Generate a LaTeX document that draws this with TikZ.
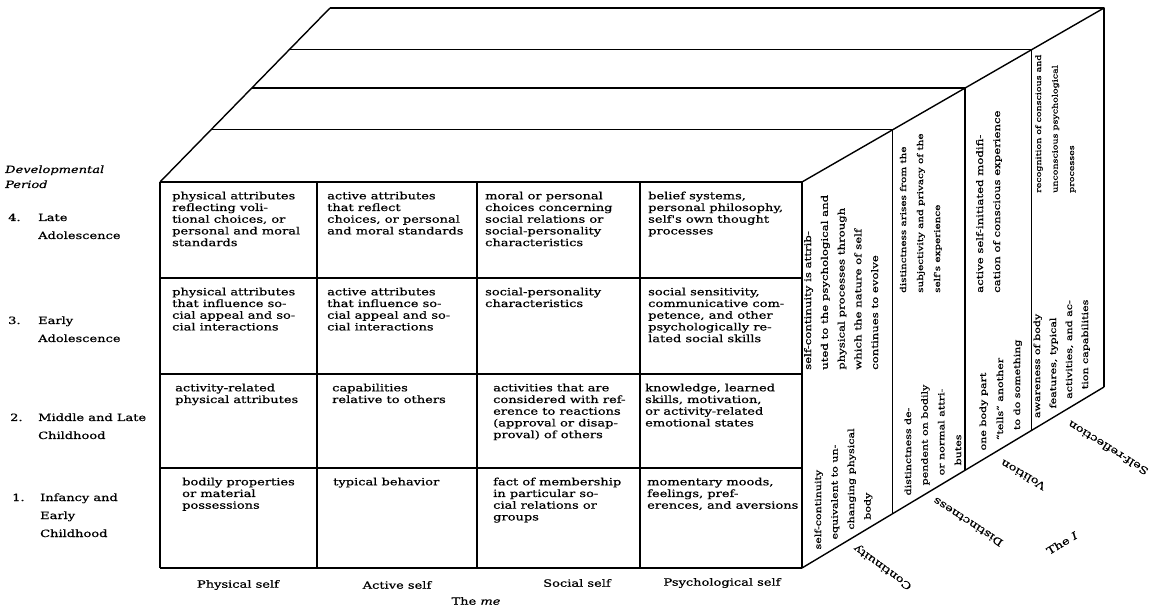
\documentclass[tikz,border=0pt]{standalone}
\usepackage{fontspec}
\usetikzlibrary{calc}
\newfontfamily\scanfont[FakeStretch=1.3,FakeBold=0.7]{DejaVu Serif}
\tikzset{
  frontline/.style={line width=1.8pt},
  boxline/.style={line width=1.4pt},
  celltext/.style={anchor=north west, align=left, inner sep=0pt,
    font=\scanfont\fontsize{10}{11.7}\selectfont},
  slabtext/.default=8.5,
  slabtext/.style={rotate=90, anchor=base west, inner sep=0pt,
    font=\scanfont\fontsize{#1}{10}\selectfont},
  axislabel/.style={inner sep=0pt, font=\scanfont\fontsize{10}{12}\selectfont},
  periodlabel/.style={anchor=base west, inner sep=0pt,
    font=\scanfont\fontsize{10}{18}\selectfont},
}

\begin{document}
\begin{tikzpicture}[x=1pt, y=1pt, line join=round]
  \useasboundingbox (0,0) rectangle (1158,613);

  % corners of the block
  \coordinate (ftl) at (160,431);
  \coordinate (ftr) at (802,431);
  \coordinate (fbl) at (160,45);
  \coordinate (fbr) at (802,45);
  \coordinate (btl) at (330,605);
  \coordinate (btr) at (1104,605);
  \coordinate (bbr) at (1104,226);

  % front face: the me
  \foreach \x in {160,317,477,640,802}
    \draw[frontline] (\x,431) -- (\x,45);
  \foreach \y in {431,335,239,145,45}
    \draw[frontline] (160,\y) -- (802,\y);

  % top and side: the I, one slab per step back
  \draw[boxline] (ftl) -- (btl);
  \draw[boxline] (ftr) -- (btr);
  \draw[boxline] (fbr) -- (bbr);
  \foreach \f in {0.3,0.54,0.76,1}
    \draw[boxline] ($(ftl)!\f!(btl)$) -- ($(ftr)!\f!(btr)$) -- ($(fbr)!\f!(bbr)$);

  % late adolescence
  \node[celltext] (phys4) at (172,421.5) {physical attributes\\reflecting voli-\\tional choices, or\\personal and moral\\standards};
  \node[celltext] (act4) at (327,421.5) {active attributes\\that reflect\\choices, or personal\\and moral standards};
  \node[celltext] (soc4) at (485,421.5) {moral or personal\\choices concerning\\social relations or\\social-personality\\characteristics};
  \node[celltext] (psy4) at (648,421.5) {belief systems,\\personal philosophy,\\self's own thought\\processes};
  % early adolescence
  \node[celltext] (phys3) at (172,325.5) {physical attributes\\that influence so-\\cial appeal and so-\\cial interactions};
  \node[celltext] (act3) at (327,325.5) {active attributes\\that influence so-\\cial appeal and so-\\cial interactions};
  \node[celltext] (soc3) at (485,325.5) {social-personality\\characteristics};
  \node[celltext] (psy3) at (648,325.5) {social sensitivity,\\communicative com-\\petence, and other\\psychologically re-\\lated social skills};
  % middle and late childhood
  \node[celltext] (phys2) at (175,229.5) {activity-related\\physical attributes};
  \node[celltext] (act2) at (332,229.5) {capabilities\\relative to others};
  \node[celltext] (soc2) at (493,229.5) {activities that are\\considered with ref-\\erence to reactions\\(approval or disap-\\proval) of others};
  \node[celltext] (psy2) at (645,229.5) {knowledge, learned\\skills, motivation,\\or activity-related\\emotional states};
  % infancy and early childhood
  \node[celltext] (phys1) at (182,135.5) {bodily properties\\or material\\possessions};
  \node[celltext] (act1) at (333,135.5) {typical behavior};
  \node[celltext] (soc1) at (493,135.5) {fact of membership\\in particular so-\\cial relations or\\groups};
  \node[celltext] (psy1) at (647,135.5) {momentary moods,\\feelings, pref-\\erences, and aversions};

  % continuity slab
  \foreach \t [count=\i from 0] in {self-continuity, equivalent to un-, changing physical, body} {
    \pgfmathsetmacro\xx{821+16.5*\i}
    \node[slabtext] (contlow\i) at (\xx,{45+0.6*(\xx-802)+7}) {\t};
  }
  \foreach \t [count=\i from 0] in {self-continuity is attrib-, uted to the psychological and, physical processes through, which the nature of self, continues to evolve}
    \node[slabtext=9] (contup\i) at (811+16.75*\i,243) {\t};
  % distinctness slab
  \foreach \t [count=\i from 0] in {distinctness de-, pendent on bodily, or normal attri-, butes} {
    \pgfmathsetmacro\xx{911+16.7*\i}
    \node[slabtext] (distlow\i) at (\xx,{45+0.6*(\xx-802)+7}) {\t};
  }
  \foreach \t [count=\i from 0] in {distinctness arises from the, subjectivity and privacy of the, self's experience}
    \node[slabtext=8] (distup\i) at (906+17*\i,320) {\t};
  % volition slab
  \foreach \t [count=\i from 0] in {one body part, “tells” another, to do something} {
    \pgfmathsetmacro\xx{986+17*\i}
    \node[slabtext] (vollow\i) at (\xx,{45+0.6*(\xx-802)+7}) {\t};
  }
  \foreach \t [count=\i from 0] in {active self-initiated modifi-, cation of conscious experience}
    \node[slabtext=9] (volup\i) at (983+17*\i,320) {\t};
  % self-reflection slab
  \foreach \t [count=\i from 0] in {awareness of body, {features, typical}, {activities, and ac-}, tion capabilities} {
    \pgfmathsetmacro\xx{1040+16*\i}
    \node[slabtext] (reflow\i) at (\xx,{45+0.6*(\xx-802)+7}) {\t};
  }
  \foreach \t [count=\i from 0] in {recognition of conscious and, unconscious psychological, processes}
    \node[slabtext=7.3] (refup\i) at (1041+16.5*\i,420) {\t};

  % axis labels
  \node[axislabel] (physself) at (238,28) {Physical self};
  \node[axislabel] (actself) at (397,28) {Active self};
  \node[axislabel] (socself) at (577,30) {Social self};
  \node[axislabel] (psyself) at (722,30) {Psychological self};
  \node[axislabel] (theme) at (476,12) {The \textit{me}};
  \node[axislabel, rotate=144] (cont) at (883,46) {Continuity};
  \node[axislabel, rotate=147] (dist) at (968,91) {Distinctness};
  \node[axislabel, rotate=150] (vol) at (1023,138) {Volition};
  \node[axislabel, rotate=148] (selfref) at (1108,165) {Self-reflection};
  \node[axislabel, rotate=31] (theI) at (1062,70) {The \textit{I}};

  % developmental periods
  \node[periodlabel, font=\scanfont\itshape\fontsize{10}{15}\selectfont] (devper) at (5,440)
    {\begin{tabular}[t]{@{}l@{}}Developmental\\Period\end{tabular}};
  \node[periodlabel] (n4) at (8,392) {4.};
  \node[periodlabel] (late) at (38,392) {\begin{tabular}[t]{@{}l@{}}Late\\Adolescence\end{tabular}};
  \node[periodlabel] (n3) at (8,289) {3.};
  \node[periodlabel] (early) at (38,289) {\begin{tabular}[t]{@{}l@{}}Early\\Adolescence\end{tabular}};
  \node[periodlabel] (n2) at (10,192) {2.};
  \node[periodlabel] (middle) at (38,192) {\begin{tabular}[t]{@{}l@{}}Middle and Late\\Childhood\end{tabular}};
  \node[periodlabel] (n1) at (12,112) {1.};
  \node[periodlabel] (infancy) at (40,112) {\begin{tabular}[t]{@{}l@{}}Infancy and\\Early\\Childhood\end{tabular}};
\end{tikzpicture}
\end{document}
